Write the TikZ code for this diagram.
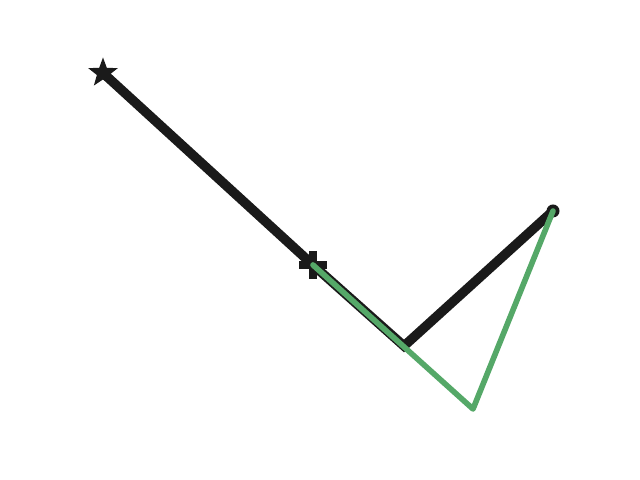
\documentclass[tikz,border=0pt]{standalone}
\usepackage{tikz}
\usetikzlibrary{shapes.geometric}
\definecolor{dunkel}{HTML}{1A1A1A}
\definecolor{gruen}{HTML}{55A868}

\begin{document}
\begin{tikzpicture}[x=0.01cm, y=-0.01cm,
    schwarz/.style={dunkel, line width=2.7pt, line join=miter},
    gruenlinie/.style={gruen, line width=1.6pt, line join=round, line cap=round},
    kreuzarm/.style={dunkel, line width=2.3pt}]
  \useasboundingbox (0,0) rectangle (640,480);

  % --- Eckpunkte des Streckenzugs ---
  \coordinate (a) at (103,73);
  \coordinate (b) at (313,265);
  \coordinate (c) at (404,346);
  \coordinate (d) at (553,211);
  \coordinate (e) at (473,409);

  % Schwarzer Streckenzug
  \draw[schwarz] (a) -- (b) -- (c) -- (d);

  % Marker: Stern, Plus, Punkt
  \node[star, star points=5, star point ratio=2.4, fill=dunkel,
        inner sep=0pt, minimum size=0.31cm] (stern) at (a) {};
  \draw[kreuzarm] ([shift={(-14,0)}]b) -- ([shift={(14,0)}]b);
  \draw[kreuzarm] ([shift={(0,-14)}]b) -- ([shift={(0,14)}]b);
  \fill[dunkel] (d) circle (0.065cm);

  % Gruener Streckenzug darueber
  \draw[gruenlinie] (b) -- (e) -- (d);
\end{tikzpicture}
\end{document}
